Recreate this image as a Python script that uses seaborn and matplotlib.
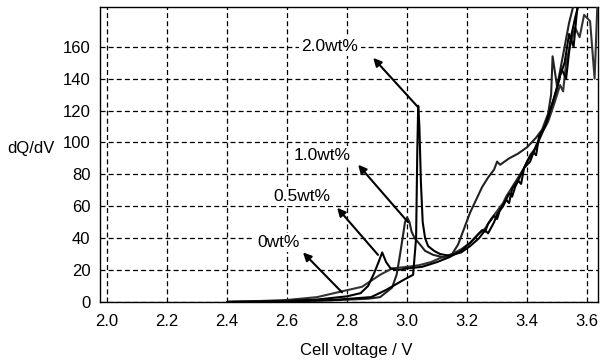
import numpy as np
import pandas as pd
import matplotlib
matplotlib.use('Agg')
import matplotlib.pyplot as plt
import seaborn as sns

# Data (dQ/dV vs cell voltage)
v_0 = [2.40, 2.50, 2.60, 2.70, 2.78, 2.85, 2.91, 2.95, 3.00, 3.04, 3.08, 3.11, 3.14,
       3.18, 3.21, 3.24, 3.26, 3.28, 3.30, 3.32, 3.33, 3.35, 3.37, 3.39, 3.41, 3.43,
       3.45, 3.47, 3.49, 3.51, 3.52, 3.53, 3.545, 3.56, 3.575, 3.59, 3.61, 3.625, 3.635]
dq_0 = [0, 0.5, 1.2, 3, 6.5, 9.5, 17, 21, 22, 23, 25, 27.5, 29,
        33, 37, 43, 46, 52, 57, 62, 66, 72, 78, 84, 92, 97,
        106, 113, 124, 136, 132, 150, 162, 172, 166, 180, 176, 140, 190]

v_05 = [2.40, 2.55, 2.70, 2.80, 2.845, 2.87, 2.89, 2.905, 2.917, 2.93, 2.945, 2.97,
        3.00, 3.05, 3.10, 3.14, 3.18, 3.21, 3.23, 3.25, 3.26, 3.27, 3.29, 3.30, 3.31,
        3.33, 3.34, 3.35, 3.37, 3.38, 3.39, 3.41, 3.43, 3.45, 3.47, 3.49, 3.51, 3.525,
        3.54, 3.555, 3.57]
dq_05 = [0, 0.3, 1.5, 3.5, 5.5, 10, 18, 25, 31, 25, 21, 20,
         21, 22, 25, 28, 32, 37, 41, 45, 44, 49, 54, 52, 58,
         64, 62, 71, 76, 74, 84, 88, 98, 106, 116, 128, 142, 150,
         168, 160, 190]

v_10 = [2.40, 2.60, 2.75, 2.87, 2.91, 2.95, 2.965, 2.975, 2.985, 2.993, 3.0, 3.008,
        3.015, 3.025, 3.043, 3.06, 3.087, 3.12, 3.15, 3.17, 3.19, 3.21, 3.23, 3.25,
        3.27, 3.29, 3.30, 3.31, 3.34, 3.37, 3.40, 3.43, 3.45, 3.47, 3.48, 3.485,
        3.50, 3.52, 3.54, 3.56]
dq_10 = [0, 0.3, 1, 2, 3, 9, 17, 28, 40, 50, 53, 50,
         44, 40, 36, 32, 29.5, 28, 30, 36, 46, 56, 64, 72,
         78, 83, 88, 86, 90, 93, 97, 103, 108, 118, 130, 154,
         135, 155, 175, 190]

v_20 = [2.40, 2.60, 2.75, 2.88, 2.93, 2.99, 3.02, 3.03, 3.034, 3.037, 3.041, 3.046,
        3.052, 3.06, 3.07, 3.09, 3.11, 3.14, 3.18, 3.21, 3.24, 3.26, 3.27, 3.29,
        3.30, 3.32, 3.34, 3.35, 3.36, 3.38, 3.40, 3.42, 3.43, 3.44, 3.46, 3.48,
        3.50, 3.515, 3.53, 3.545, 3.56, 3.58]
dq_20 = [0, 0.3, 1.2, 3, 7.5, 14, 17, 40, 95, 123, 110, 75,
         50, 40, 35, 32, 30, 29, 31, 35, 40, 45, 43, 50,
         55, 60, 68, 66, 72, 80, 88, 94, 92, 104, 110, 122,
         134, 146, 140, 165, 178, 192]

labels = ['0wt%', '0.5wt%', '1.0wt%', '2.0wt%']
label_xy = [(2.57, 37), (2.65, 66), (2.717, 92), (2.743, 160)]
arrow_tip = [(2.653, 31), (2.767, 59), (2.837, 86), (2.887, 153)]
arrow_tail = [(2.783, 6), (2.903, 29.5), (3.003, 50), (3.037, 122)]

sns.set_style('white')
plt.rcParams['font.family'] = ['Liberation Sans', 'DejaVu Sans']
plt.rcParams['text.color'] = 'black'

fig, ax = plt.subplots(figsize=(6, 3.62), dpi=100)
fig.subplots_adjust(left=0.167, right=0.997, bottom=0.166, top=0.981)

curves = [(v_0, dq_0, '#333333'), (v_05, dq_05, 'black'),
          (v_10, dq_10, '#222222'), (v_20, dq_20, 'black')]
for v, dq, c in curves:
    sns.lineplot(x=v, y=dq, ax=ax, color=c, linewidth=1.5, sort=False,
                 estimator=None, zorder=3)

# Labels and arrows
for lab, (tx, ty), tip, tail in zip(labels, label_xy, arrow_tip, arrow_tail):
    ax.text(tx, ty, lab, ha='center', va='center', fontsize=12.5, color='black',
            zorder=4, bbox=dict(facecolor='white', edgecolor='none', pad=1.5))
    ax.annotate('', xy=tip, xytext=tail, zorder=4,
                arrowprops=dict(arrowstyle='-|>', color='black', lw=1.5,
                                mutation_scale=12, shrinkA=0, shrinkB=0))

ax.set_xlim(1.977, 3.637)
ax.set_ylim(0, 185)
ax.set_xticks(np.arange(2.0, 3.61, 0.2))
ax.set_xticklabels([f'{t:.1f}' for t in np.arange(2.0, 3.61, 0.2)])
ax.set_yticks(np.arange(0, 161, 20))
ax.tick_params(length=0, labelsize=12, labelcolor='black')
ax.tick_params(axis='x', pad=9)
ax.tick_params(axis='y', pad=7)
ax.grid(True, color='black', linestyle=(0, (4, 2.5)), linewidth=0.9)
for s in ax.spines.values():
    s.set_color('black')
    s.set_linewidth(1.0)

ax.set_xlabel('')
ax.set_ylabel('')
fig.text(0.052, 0.591, 'dQ/dV', ha='center', va='center', fontsize=12)
fig.text(0.593, 0.033, 'Cell voltage / V', ha='center', va='center', fontsize=12)

plt.savefig('out.png', dpi=100)
